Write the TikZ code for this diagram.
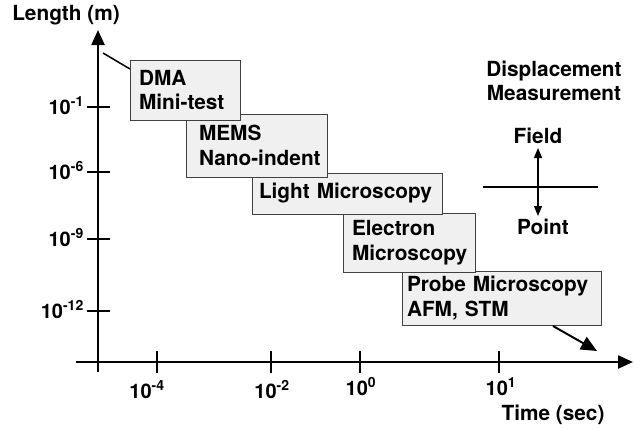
\documentclass[tikz,border=0pt]{standalone}
\usepackage{fontspec}
\setmainfont{TeX Gyre Heros}
\usetikzlibrary{arrows.meta,calc,positioning}
\newcommand{\pten}[1]{10\textsuperscript{#1}}

\tikzset{
  techbox/.style={draw=black!75,fill=gray!12,line width=0.9pt,anchor=north west,
    align=left,inner ysep=0pt,outer sep=0pt,font=\bfseries\fontsize{20.8}{24.5}\selectfont,
    execute at begin node={\hyphenpenalty=10000\exhyphenpenalty=10000}},
  lab/.style={font=\bfseries\fontsize{20.8}{24.5}\selectfont,inner sep=0pt},
  ticklab/.style={font=\bfseries\fontsize{20}{22}\selectfont,inner sep=0pt},
  bigtip/.style={-{Triangle[length=15pt,width=13pt]}},
  smalltip/.style={{Triangle[length=10pt,width=8pt]}-{Triangle[length=10pt,width=8pt]}}
}

\begin{document}
\begin{tikzpicture}[x=1pt,y=-1pt]
\useasboundingbox (0,0) rectangle (635,429);

% axes
\coordinate (ybot) at (98,372);
\coordinate (ytop) at (98,30);
\coordinate (xleft) at (76,362);
\coordinate (xright) at (633,362);
\draw[line width=2.4pt,bigtip] (ybot) -- (ytop);
\draw[line width=2.4pt,bigtip] (xleft) -- (xright);
\node[lab] (ylab) at (66,15) {Length (m)};
\node[lab] (xlab) at (553,415) {Time (sec)};

% length ticks
\foreach \yy/\ee in {107/-1,172/-6,239/-9,311/-12} {
  \draw[line width=2.4pt] (87,\yy) -- (110,\yy);
  \node[ticklab,anchor=base east] at (84,\yy+7) {\pten{\ee}};
}
% time ticks
\foreach \xx/\lx/\ly/\ee in {157/147/398/-4,271/272/398/-2,360/361/395/0,499/501/395/1} {
  \draw[line width=2.4pt] (\xx,351) -- (\xx,373);
  \node[ticklab,anchor=base] at (\lx,\ly) {\pten{\ee}};
}

% methods, last one first so the earlier boxes lie on top
\node[techbox,text width=189pt,inner xsep=5pt,minimum height=54pt] (probe) at (402,271) {Probe Microscopy\\AFM, STM};
\node[techbox,text width=114pt,inner xsep=9pt,minimum height=59pt] (electron) at (343,213) {Electron\\Microscopy};
\node[techbox,text width=176pt,inner xsep=7pt,minimum height=41pt] (light) at (252,173) {Light Microscopy};
\node[techbox,text width=115pt,inner xsep=13pt,minimum height=63pt] (mems) at (186,114) {MEMS\\Nano-indent};
\node[techbox,text width=92pt,inner xsep=9pt,minimum height=60pt] (dma) at (130,60) {DMA\\Mini-test};

\coordinate (dmaend) at (103,53);
\draw[line width=1.5pt] (dmaend) -- ($(dma.north west)+(0,9)$);
\coordinate (probeend) at (597,351);
\draw[line width=2pt,-{Triangle[length=16pt,width=14pt]}] ($(probe.south east)+(-48,1)$) -- (probeend);

% displacement measurement
\node[lab,align=center] (disp) at (554,81) {Displacement\\Measurement};
\node[lab] (field) at (538,136) {Field};
\node[lab] (point) at (543,227) {Point};
\coordinate (fup) at (538,148);
\coordinate (pdown) at (538,216);
\draw[line width=1.2pt,smalltip] (fup) -- (pdown);
\draw[line width=1.2pt] (483,187) -- (598,187);
\end{tikzpicture}
\end{document}
